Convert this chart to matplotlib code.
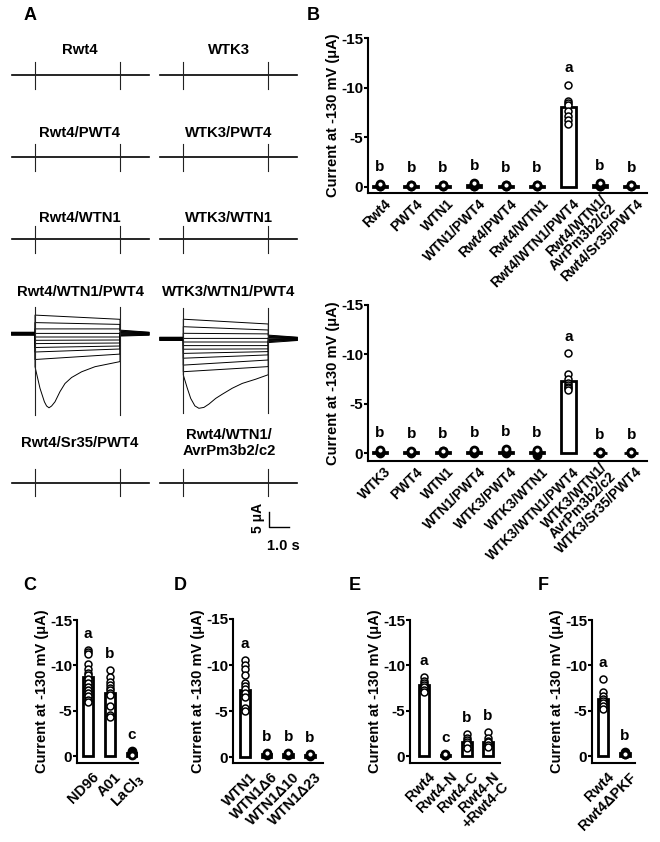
import numpy as np
import matplotlib
matplotlib.use("Agg")
import matplotlib.pyplot as plt
from matplotlib.transforms import ScaledTranslation, blended_transform_factory

plt.rcParams['font.family'] = ['Liberation Sans', 'DejaVu Sans']
plt.rcParams['font.weight'] = 'bold'
plt.rcParams['axes.labelweight'] = 'bold'
plt.rcParams['axes.unicode_minus'] = False

W, H = 660, 842

########## data: panel A traces (s, uA)
t_pre, t_step, t_post = 1.17, 4.25, 1.45

trace_titles = [["Rwt4", "WTK3"],
                ["Rwt4/PWT4", "WTK3/PWT4"],
                ["Rwt4/WTN1", "WTK3/WTN1"],
                ["Rwt4/WTN1/PWT4", "WTK3/WTN1/PWT4"],
                ["Rwt4/Sr35/PWT4", "Rwt4/WTN1/\nAvrPm3b2/c2"]]

# Rwt4/WTN1/PWT4 family
a_hold = [0.5, 0.4, 0.3, 0.2, 0.1, 0.0, -0.1, -0.2, -0.3, -0.4, -0.5]
a_start = [6.2, 3.7, 1.6, 0.1, -1.1, -2.2, -3.3, -4.6, -6.1, -8.6]
a_end = [4.8, 3.1, 1.6, 0.1, -1.1, -2.1, -3.1, -4.1, -5.1, -6.8]
a_tail = [1.2, 1.0, 0.8, 0.6, 0.4, 0.2, 0.0, -0.2, -0.4, -0.6, -0.8]
a_trans_t = [0, 0.25, 0.47, 0.58, 0.70, 0.83, 1.0, 1.25, 1.5, 1.83, 2.33, 3.0, 4.25]
a_trans_i = [-11.0, -18.2, -22.7, -24.1, -24.7, -24.1, -22.7, -19.3, -16.6, -14.6, -12.7, -11.0, -9.3]

# WTK3/WTN1/PWT4 family
b_hold = [0.6, 0.5, 0.4, 0.3, 0.2, 0.1, 0.0, -0.1, -0.2, -0.3, -0.4, -0.5]
b_start = [6.6, 4.1, 1.9, 0.2, -1.0, -2.2, -3.4, -4.8, -6.4, -8.7, -10.9]
b_end = [5.0, 3.0, 1.7, 0.2, -1.0, -2.2, -3.3, -4.2, -5.3, -7.0, -9.2]
b_tail = [1.3, 1.1, 0.9, 0.7, 0.5, 0.3, 0.0, -0.2, -0.5, -0.7, -0.9, -1.2]
b_trans_t = [0, 0.2, 0.37, 0.58, 0.78, 1.03, 1.28, 1.62, 1.95, 2.45, 2.95, 3.62, 4.25]
b_trans_i = [-12.0, -16.4, -19.8, -22.3, -23.1, -22.8, -21.7, -19.8, -18.4, -16.4, -14.8, -13.4, -11.9]

########## data: bar panels (current at -130 mV, uA)
b1_labels = ["Rwt4", "PWT4", "WTN1", "WTN1/PWT4", "Rwt4/PWT4", "Rwt4/WTN1",
             "Rwt4/WTN1/PWT4", "Rwt4/WTN1/\nAvrPm3b2/c2", "Rwt4/Sr35/PWT4"]
b1_means = [-0.1, -0.1, -0.1, -0.15, -0.1, -0.1, -8.1, -0.15, -0.1]
b1_sems = [0, 0, 0, 0, 0, 0, 0.45, 0, 0]
b1_points = [[-0.05, -0.1, -0.15, -0.2, -0.25],
             [-0.05, -0.1, -0.15, -0.2],
             [-0.05, -0.1, -0.15, -0.2],
             [-0.05, -0.1, -0.2, -0.3, -0.35],
             [-0.05, -0.1, -0.15, -0.2],
             [-0.05, -0.1, -0.15, -0.2],
             [-10.3, -8.7, -8.5, -8.3, -7.7, -7.2, -6.7, -6.3],
             [-0.05, -0.1, -0.15, -0.4],
             [-0.05, -0.1, -0.15, -0.2]]
b1_letters = ["b", "b", "b", "b", "b", "b", "a", "b", "b"]

b2_labels = ["WTK3", "PWT4", "WTN1", "WTN1/PWT4", "WTK3/PWT4", "WTK3/WTN1",
             "WTK3/WTN1/PWT4", "WTK3/WTN1/\nAvrPm3b2/c2", "WTK3/Sr35/PWT4"]
b2_means = [-0.1, -0.1, -0.1, -0.1, -0.1, -0.1, -7.3, -0.05, -0.05]
b2_sems = [0, 0, 0, 0, 0, 0, 0.4, 0, 0]
b2_points = [[-0.05, -0.1, -0.2, -0.35],
             [-0.05, -0.1, -0.15, -0.2],
             [-0.05, -0.1, -0.2, -0.25],
             [-0.05, -0.1, -0.2, -0.3],
             [-0.05, -0.1, -0.2, -0.4],
             [0.2, -0.05, -0.1, -0.2, -0.3],
             [-10.1, -8.0, -7.5, -7.1, -6.9, -6.7, -6.6, -6.4],
             [-0.05, -0.1, -0.15],
             [-0.05, -0.1, -0.15]]
b2_letters = ["b", "b", "b", "b", "b", "b", "a", "b", "b"]

c_labels = ["ND96", "A01", "LaCl$_3$"]
c_means = [-8.7, -7.0, -0.3]
c_sems = [0.5, 0.5, 0]
c_points = [[-11.7, -11.5, -11.3, -10.2, -9.6, -9.2, -8.9, -8.5, -8.0, -7.6, -7.3, -7.0, -6.6, -6.2, -6.0],
            [-9.5, -8.7, -8.2, -7.8, -7.5, -7.3, -7.0, -6.7, -5.5, -4.5, -4.3],
            [-0.5, -0.4, -0.3, -0.3, -0.2, -0.2, -0.1]]
c_letters = ["a", "b", "c"]

d_labels = ["WTN1", "WTN1Δ6", "WTN1Δ10", "WTN1Δ23"]
d_means = [-7.3, -0.3, -0.3, -0.2]
d_sems = [0.6, 0, 0, 0]
d_points = [[-10.5, -10.0, -9.6, -8.9, -8.0, -7.7, -7.4, -7.0, -6.5, -5.3, -5.0],
            [-0.2, -0.3, -0.4],
            [-0.2, -0.3, -0.4],
            [-0.15, -0.2, -0.3]]
d_letters = ["a", "b", "b", "b"]

e_labels = ["Rwt4", "Rwt4-N", "Rwt4-C", "Rwt4-N\n+Rwt4-C"]
e_means = [-7.8, -0.1, -1.6, -1.5]
e_sems = [0.2, 0, 0.2, 0.2]
e_points = [[-8.7, -8.3, -8.0, -7.8, -7.6, -7.3, -7.1],
            [-0.1, -0.15, -0.2],
            [-2.4, -2.0, -1.8, -1.6, -1.3, -0.9],
            [-2.6, -2.0, -1.7, -1.5, -1.2, -1.0]]
e_letters = ["a", "c", "b", "b"]

f_labels = ["Rwt4", "Rwt4ΔPKF"]
f_means = [-6.3, -0.3]
f_sems = [0.4, 0]
f_points = [[-8.5, -7.1, -6.6, -6.3, -6.1, -5.9, -5.5, -5.2],
            [-0.4, -0.3, -0.2, -0.2]]
f_letters = ["a", "b"]

##########

fig = plt.figure(figsize=(W / 100, H / 100), dpi=100)


def add_ax(left, top, right, bottom):
    return fig.add_axes([left / W, 1 - bottom / H, (right - left) / W, (bottom - top) / H])


def ftext(x, y, s, **kw):
    fig.text(x / W, 1 - y / H, s, **kw)


PX_S, PX_UA = 20.0, 3.0
step_x = [35.0, 183.3]


def trace_ax(col, base_y):
    x0 = step_x[col] - 1.5 * PX_S
    ax = add_ax(x0, base_y - 12 * PX_UA, x0 + 7.5 * PX_S, base_y + 30 * PX_UA)
    ax.set_xlim(-1.5, 6.0)
    ax.set_ylim(-30, 12)
    ax.axis('off')
    return ax


def markers(ax, top, bot):
    ax.plot([0, 0], [top, bot], color='#222222', lw=0.8)
    ax.plot([t_step, t_step], [top, bot], color='#222222', lw=0.8)


def flat_trace(col, base_y):
    ax = trace_ax(col, base_y)
    ax.plot([-t_pre, t_step + t_post], [0, 0], color='black', lw=1.2)
    markers(ax, 4.5, -4.5)
    return ax


def family(col, base_y, hold, start, end, tail, tr_t, tr_i, top, bot):
    ax = trace_ax(col, base_y)
    for i in range(len(start)):
        ax.plot([-t_pre, 0, 0, t_step, t_step, t_step + t_post],
                [hold[i], hold[i], start[i], end[i], tail[i], hold[i]],
                color='black', lw=0.7)
    ax.plot([-t_pre, 0] + tr_t + [t_step, t_step + t_post],
            [hold[-1], hold[-1]] + tr_i + [tail[-1], hold[-1]],
            color='black', lw=0.7)
    markers(ax, top, bot)
    return ax


row_base = [75, 157.3, 239.3, None, 482.7]
row_title = [50, 133, 218, 292, 443]
col_center = [80, 229]

for r in [0, 1, 2, 4]:
    for c in [0, 1]:
        last = flat_trace(c, row_base[r])
family(0, 333.7, a_hold, a_start, a_end, a_tail, a_trans_t, a_trans_i, 8.9, -27)
family(1, 339.0, b_hold, b_start, b_end, b_tail, b_trans_t, b_trans_i, 10.3, -24.7)

for r in range(5):
    for c in range(2):
        ftext(col_center[c], row_title[r], trace_titles[r][c], ha='center', va='center',
              fontsize=10.7, fontweight='bold', linespacing=1.1)

# scale bar (5 uA, 1.0 s)
last.plot([4.3, 4.3, 4.3 + 1.0], [-9.67, -9.67 - 5, -9.67 - 5], color='black', lw=1.0)
ftext(258, 518, "5 μA", rotation=90, ha='center', va='center', fontsize=10)
ftext(283, 546, "1.0 s", ha='center', va='center', fontsize=10.5)


def bar_panel(rect, xlim, ybot, labels, means, sems, points, letters, xfs, xpad, xshift, mshift=0):
    ax = add_ax(*rect)
    x = np.arange(len(labels))
    ax.bar(x, means, width=0.45, color='white', edgecolor='black', linewidth=2, zorder=2)
    ax.errorbar(x, means, yerr=sems, fmt='none', ecolor='black', elinewidth=1.2,
                capsize=2, zorder=3)
    for i, p in enumerate(points):
        mew = 1.1 if abs(means[i]) > 1 else 2.0
        ax.plot([x[i]] * len(p), p, 'o', mfc='white', mec='black', ms=5, mew=mew, zorder=4)
        ax.text(x[i], min(p) - 1.0, letters[i], ha='center', va='bottom',
                fontsize=11, fontweight='bold')
    ax.set_xlim(*xlim)
    ax.set_ylim(ybot, -15)
    ax.set_yticks([0, -5, -10, -15])
    ax.set_yticklabels(["0", "-5", "-10", "-15"])
    ax.set_xticks(x)
    ax.set_xticklabels([])
    # rotated category labels drawn as texts under each bar
    base = blended_transform_factory(ax.transData, ax.transAxes)
    for i, lab in enumerate(labels):
        dx, dy = xshift, -xpad
        if '\n' in lab:
            # nudge two-line labels up-left so they sit between neighbours
            dx, dy = xshift - mshift, -xpad + mshift
        tr = base + ScaledTranslation(dx / 72, dy / 72, fig.dpi_scale_trans)
        ax.text(x[i], 0, lab, transform=tr, rotation=45, ha='right', va='top',
                rotation_mode='anchor', fontsize=xfs, fontweight='bold', linespacing=0.9)
    ax.tick_params(axis='x', length=0)
    ax.tick_params(axis='y', length=3, width=1.5, labelsize=11, pad=0.5)
    for s in ['top', 'right']:
        ax.spines[s].set_visible(False)
    for s in ['left', 'bottom']:
        ax.spines[s].set_linewidth(1.5)
    ax.set_ylabel("Current at -130 mV (μA)", fontsize=10.5, labelpad=1)
    ax.patch.set_alpha(0)
    return ax


bar_panel((368, 38.3, 647, 192.7), (-0.38, 8.5), 0.6,
          b1_labels, b1_means, b1_sems, b1_points, b1_letters, 10, 3, 3, 3)
bar_panel((368, 305, 647, 460.7), (-0.38, 8.5), 0.75,
          b2_labels, b2_means, b2_sems, b2_points, b2_letters, 10, 3, 3, 3)
bar_panel((77, 620, 138, 763), (-0.5, 2.27), 0.77,
          c_labels, c_means, c_sems, c_points, c_letters, 10.5, 5, 3)
bar_panel((233, 619, 323, 763), (-0.55, 3.6), 0.65,
          d_labels, d_means, d_sems, d_points, d_letters, 10.5, 5, 3)
bar_panel((410, 620, 500, 763), (-0.66, 3.56), 0.77,
          e_labels, e_means, e_sems, e_points, e_letters, 10.5, 5, 3)
bar_panel((592, 620, 635, 763), (-0.5, 1.45), 0.77,
          f_labels, f_means, f_sems, f_points, f_letters, 10.5, 5, 3)

for s, x, y in [("A", 30, 15), ("B", 313, 15), ("C", 30, 585), ("D", 180, 585),
                ("E", 355, 585), ("F", 543, 585)]:
    ftext(x, y, s, ha='center', va='center', fontsize=13, fontweight='bold')

fig.savefig("out.png", dpi=100)
